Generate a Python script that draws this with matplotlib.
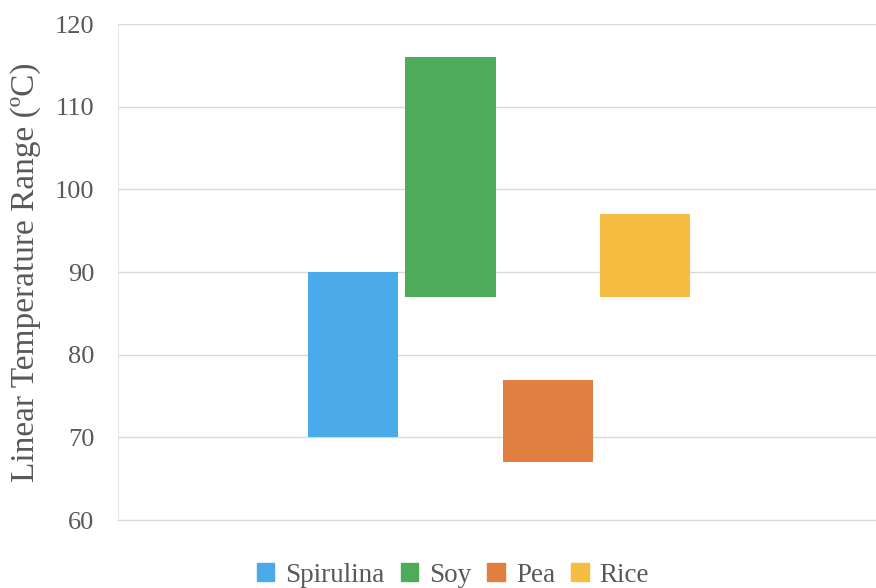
import numpy as np
from matplotlib import pyplot as plt
from matplotlib.patches import Patch

# Floating bars: each protein has a low and high end of its linear range
proteins = ["Spirulina", "Soy", "Pea", "Rice"]
range_low = [70, 87, 67, 87]
range_high = [90, 116, 77, 97]
colors = ["#4aaaea", "#4eab5a", "#e07f3f", "#f5bd42"]
y_ticks = [60, 70, 80, 90, 100, 110, 120]

plt.rcParams['font.family'] = ['Liberation Serif', 'DejaVu Serif']
text_color = "#595959"

fig = plt.figure(figsize=(8.76, 5.88), dpi=100)
ax = fig.add_axes([0.1347, 0.1156, 0.865, 0.8435])

bar_w = 0.119
step = 0.1286
for i, name in enumerate(proteins):
    off = (i - 1.5) * step + 0.003
    ax.bar(off, range_high[i] - range_low[i], bottom=range_low[i],
           width=bar_w, color=colors[i], label=name, zorder=3)

ax.set_xlim(-0.5, 0.5)
ax.set_ylim(60, 120)
ax.set_yticks(y_ticks)
ax.set_xticks([])
ax.grid(axis="y", color="#d9d9d9", linewidth=1.0, zorder=0)
ax.tick_params(axis="y", length=0, labelsize=19, colors=text_color, pad=17)
for side in ["top", "right"]:
    ax.spines[side].set_visible(False)
ax.spines["left"].set_color("#e6e6e6")
ax.spines["bottom"].set_color("#d9d9d9")

ax.set_ylabel("Linear Temperature Range (ºC)", fontsize=24, color=text_color, labelpad=10)

handles = [Patch(color=c, label=n) for n, c in zip(proteins, colors)]
leg = fig.legend(handles=handles, loc="center", ncol=4, frameon=False,
                 bbox_to_anchor=(0.517, 0.022), fontsize=19.5,
                 handlelength=0.65, handleheight=0.65, handletextpad=0.4, columnspacing=0.6)
for t in leg.get_texts():
    t.set_color(text_color)

fig.savefig("out.png", dpi=100)
